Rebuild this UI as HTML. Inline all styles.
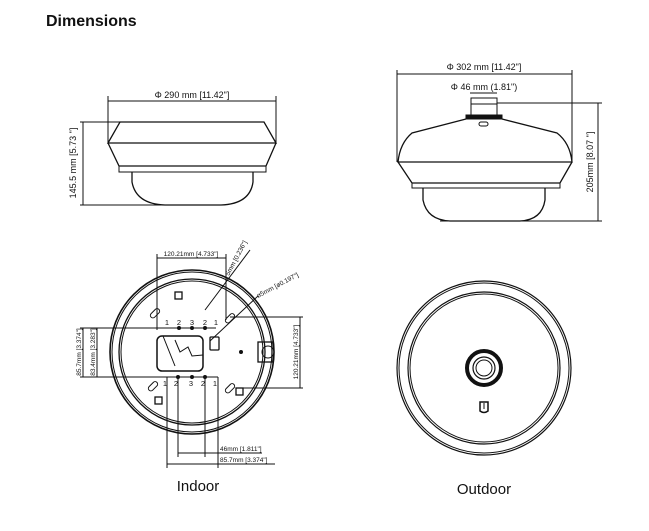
<!DOCTYPE html>
<html><head><meta charset="utf-8"><style>
body{margin:0;background:#fff;width:649px;height:531px;overflow:hidden}
svg{display:block}
text{font-family:"Liberation Sans",sans-serif;fill:#111}
</style></head><body>
<svg width="649" height="531" viewBox="0 0 649 531" xmlns="http://www.w3.org/2000/svg">
<text x="46" y="26" font-size="16" font-weight="bold">Dimensions</text>

<!-- Top-left camera -->
<g stroke="#111" fill="none" stroke-width="1">
<line x1="108" y1="101" x2="276" y2="101"/>
<line x1="108" y1="96" x2="108" y2="143"/>
<line x1="276" y1="96" x2="276" y2="143"/>
<path d="M120 122 L264 122 L276 143 L108 143 Z" stroke-width="1.3"/>
<path d="M108 143 L119 166 L266 166 L276 143" stroke-width="1.3"/>
<rect x="119" y="166" width="147" height="6"/>
<path d="M132 172 L132 182 Q136 204 165 205 L221 205 Q250 204 253 182 L253 172" stroke-width="1.3"/>
<line x1="80" y1="122" x2="120" y2="122"/>
<line x1="80" y1="205" x2="165" y2="205"/>
<line x1="83" y1="122" x2="83" y2="205"/>
</g>
<text x="192" y="98" font-size="9" text-anchor="middle">Φ 290 mm [11.42"]</text>
<text transform="translate(76,163) rotate(-90)" font-size="9" text-anchor="middle">145.5 mm [5.73 "]</text>

<!-- Top-right camera -->
<g stroke="#111" fill="none" stroke-width="1">
<line x1="397" y1="74" x2="572" y2="74"/>
<line x1="397" y1="70" x2="397" y2="162"/>
<line x1="572" y1="70" x2="572" y2="162"/>
<line x1="470" y1="93" x2="497" y2="93"/>
<rect x="471" y="98" width="26" height="17"/>
<line x1="471" y1="104" x2="497" y2="104"/>
<rect x="466" y="115" width="36" height="4" fill="#111"/>
<path d="M466 119 L412 133 Q400 143 398 162 L572 162 Q570 143 557 133 L502 119" stroke-width="1.3"/>
<rect x="479" y="122" width="9" height="4" rx="2"/>
<path d="M398 162 L412 183 L560 183 L572 162" stroke-width="1.3"/>
<rect x="412" y="183" width="148" height="5"/>
<path d="M423 188 L423 200 Q427 220 450 221 L520 221 Q542 220 545 200 L545 188" stroke-width="1.3"/>
<line x1="497" y1="103" x2="602" y2="103"/>
<line x1="440" y1="221" x2="602" y2="221"/>
<line x1="598" y1="103" x2="598" y2="221"/>
</g>
<text x="484" y="70" font-size="9" text-anchor="middle">Φ 302 mm [11.42"]</text>
<text x="484" y="90" font-size="9" text-anchor="middle">Φ 46 mm (1.81")</text>
<text transform="translate(593,162) rotate(-90)" font-size="9" text-anchor="middle">205mm  [8.07 "]</text>

<!-- Indoor -->
<g stroke="#111" fill="none" stroke-width="1">
<circle cx="192" cy="352" r="82" stroke-width="1.6"/>
<circle cx="192" cy="352" r="80"/>
<circle cx="192" cy="352" r="73" stroke-width="1.3"/>
<circle cx="192" cy="352" r="71"/>
<line x1="157" y1="258" x2="226" y2="258"/>
<line x1="157" y1="254" x2="157" y2="330"/>
<line x1="226" y1="254" x2="226" y2="320"/>
<line x1="80" y1="328" x2="216" y2="328"/>
<line x1="80" y1="377" x2="218" y2="377"/>
<line x1="83" y1="328" x2="83" y2="377"/>
<line x1="97" y1="328" x2="97" y2="377"/>
<line x1="230" y1="317" x2="303" y2="317"/>
<line x1="236" y1="388" x2="303" y2="388"/>
<line x1="300" y1="317" x2="300" y2="388"/>
<line x1="167" y1="377" x2="167" y2="468"/>
<line x1="218" y1="377" x2="218" y2="468"/>
<line x1="178" y1="377" x2="178" y2="457"/>
<line x1="205" y1="377" x2="205" y2="457"/>
<line x1="178" y1="453" x2="205" y2="453"/>
<line x1="167" y1="464" x2="218" y2="464"/>
<line x1="205" y1="453" x2="262" y2="453"/>
<line x1="218" y1="464" x2="275" y2="464"/>
<line x1="205" y1="310" x2="250" y2="250"/>
<line x1="210" y1="341" x2="258" y2="296"/>
<rect x="157" y="336" width="46" height="35" rx="5" stroke-width="1.5"/>
<path d="M163 336 L175 366 M175 340 L180 352 L188 347 L192 356 L203 355"/>
<rect x="210" y="337" width="9" height="13" rx="1" stroke-width="1.3"/>
<rect x="258" y="342" width="14" height="20" stroke-width="1.3"/>
<circle cx="268" cy="352" r="6"/>
<g transform="rotate(-45 155 314)"><rect x="150" y="311" width="11" height="5" rx="2.5"/></g>
<g transform="rotate(-45 230 319)"><rect x="225" y="316" width="11" height="5" rx="2.5"/></g>
<g transform="rotate(-45 153 387)"><rect x="148" y="384" width="11" height="5" rx="2.5"/></g>
<g transform="rotate(-45 230 389)"><rect x="225" y="386" width="11" height="5" rx="2.5"/></g>
<rect x="175" y="292" width="7" height="7" stroke-width="1.3"/>
<rect x="155" y="397" width="7" height="7" stroke-width="1.3"/>
<rect x="236" y="388" width="7" height="7" stroke-width="1.3"/>
</g>
<g fill="#111">
<circle cx="179" cy="328" r="2"/><circle cx="192" cy="328" r="2"/><circle cx="205" cy="328" r="2"/>
<circle cx="178" cy="377" r="2"/><circle cx="192" cy="377" r="2"/><circle cx="205" cy="377" r="2"/>
<circle cx="241" cy="352" r="2"/>
</g>
<g font-size="7.5" text-anchor="middle">
<text x="167" y="325">1</text><text x="179" y="325">2</text><text x="192" y="325">3</text><text x="205" y="325">2</text><text x="216" y="325">1</text>
<text x="165" y="386">1</text><text x="176" y="386">2</text><text x="191" y="386">3</text><text x="203" y="386">2</text><text x="215" y="386">1</text>
</g>
<g font-size="6.5">
<text x="191" y="256" text-anchor="middle">120.21mm [4.733"]</text>
<text transform="translate(229,276) rotate(-62)">5mm [0.236"]</text>
<text transform="translate(258,298) rotate(-28)">ø5mm [ø0.197"]</text>
<text transform="translate(81,352) rotate(-90)" text-anchor="middle">85.7mm [3.374"]</text>
<text transform="translate(95,352) rotate(-90)" text-anchor="middle">83.4mm [3.283"]</text>
<text transform="translate(298,352) rotate(-90)" text-anchor="middle">120.21mm [4.733"]</text>
<text x="220" y="451">46mm [1.811"]</text>
<text x="220" y="462">85.7mm [3.374"]</text>
</g>
<text x="198" y="491" font-size="15" text-anchor="middle">Indoor</text>

<!-- Outdoor -->
<g stroke="#111" fill="none">
<circle cx="484" cy="368" r="87" stroke-width="1.2"/>
<circle cx="484" cy="368" r="85" stroke-width="1"/>
<circle cx="484" cy="368" r="76" stroke-width="1.2"/>
<circle cx="484" cy="368" r="74" stroke-width="1"/>
<circle cx="484" cy="368" r="17" stroke-width="4"/>
<circle cx="484" cy="368" r="11" stroke-width="1.2"/>
<circle cx="484" cy="368" r="8" stroke-width="1"/>
<path d="M480 402 L480 411 Q484 414 488 411 L488 402 Z" stroke-width="1.5"/>
<line x1="484" y1="403" x2="484" y2="409"/>
</g>
<text x="484" y="494" font-size="15" text-anchor="middle">Outdoor</text>
</svg>
</body></html>
